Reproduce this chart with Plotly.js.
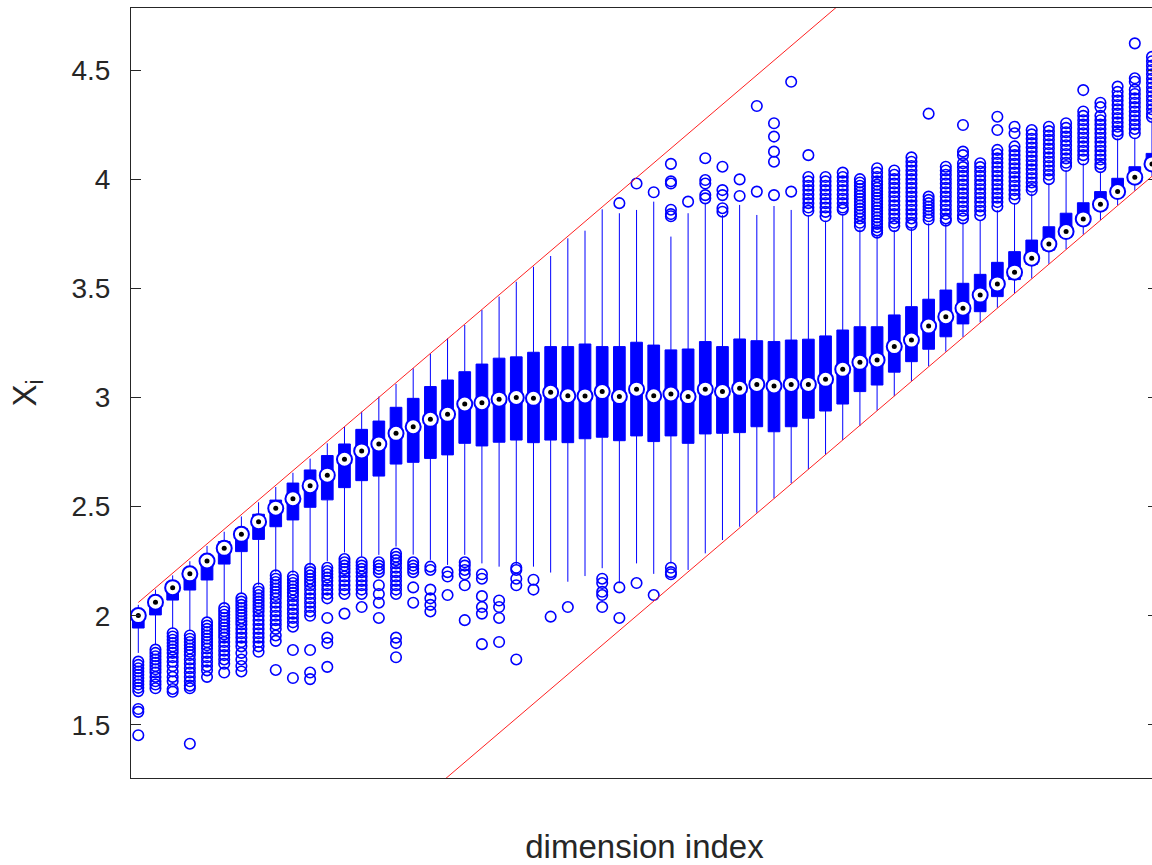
<!DOCTYPE html>
<html><head><meta charset="utf-8">
<script src="https://cdn.plot.ly/plotly-3.0.1.min.js"></script>
<style>html,body{margin:0;padding:0;overflow:hidden;background:#fff}#chart{width:1160px;height:865px}</style>
</head><body><div id="chart"></div>
<script>
const boxIndex = [];
for (let i = 1; i <= 60; i++) boxIndex.push(i);

const medians = [2.001,2.062,2.129,2.192,2.251,2.309,2.373,2.431,2.493,2.536,
  2.596,2.644,2.717,2.755,2.787,2.836,2.866,2.900,2.923,2.970,
  2.976,2.992,3.000,2.996,3.024,3.008,3.007,3.027,3.004,3.038,
  3.008,3.016,3.004,3.038,3.027,3.042,3.060,3.053,3.060,3.060,
  3.083,3.129,3.161,3.172,3.233,3.263,3.327,3.370,3.409,3.469,
  3.520,3.574,3.638,3.703,3.760,3.818,3.885,3.943,4.009,4.070];
const q1 = [1.944,2.004,2.072,2.118,2.164,2.237,2.294,2.350,2.408,2.439,
  2.497,2.531,2.587,2.619,2.640,2.695,2.703,2.721,2.737,2.790,
  2.778,2.795,2.805,2.793,2.805,2.793,2.811,2.818,2.802,2.824,
  2.798,2.824,2.790,2.833,2.836,2.839,2.866,2.843,2.866,2.905,
  2.938,2.970,3.027,3.057,3.116,3.164,3.221,3.278,3.337,3.393,
  3.462,3.540,3.610,3.675,3.735,3.795,3.860,3.920,3.985,4.045];
const q3 = [2.020,2.085,2.150,2.210,2.275,2.340,2.400,2.465,2.530,2.608,
  2.668,2.734,2.787,2.854,2.892,2.955,2.996,3.050,3.080,3.118,
  3.153,3.180,3.186,3.207,3.233,3.233,3.245,3.233,3.233,3.253,
  3.240,3.218,3.222,3.256,3.233,3.268,3.260,3.256,3.263,3.267,
  3.282,3.309,3.324,3.324,3.378,3.416,3.450,3.492,3.523,3.564,
  3.619,3.668,3.721,3.782,3.844,3.892,3.943,4.004,4.057,4.118];
const whiskerLow = [1.830,1.870,1.940,1.930,1.990,2.050,2.100,2.140,2.200,2.195,
  2.230,2.250,2.290,2.270,2.279,2.317,2.280,2.256,2.233,2.279,
  2.240,2.225,2.235,2.225,2.198,2.156,2.182,2.218,2.149,2.240,
  2.192,2.240,2.210,2.286,2.347,2.408,2.472,2.538,2.607,2.671,
  2.737,2.805,2.869,2.940,3.006,3.076,3.143,3.210,3.277,3.344,
  3.411,3.478,3.545,3.612,3.679,3.746,3.813,3.880,3.947,4.014];
const whiskerHigh = [2.050,2.120,2.185,2.250,2.320,2.385,2.455,2.520,2.590,2.655,
  2.720,2.790,2.866,2.935,3.004,3.062,3.134,3.202,3.271,3.332,
  3.401,3.462,3.530,3.599,3.648,3.729,3.764,3.862,3.844,3.859,
  3.897,3.737,3.844,3.890,3.836,3.882,3.836,3.877,3.859,3.835,
  3.810,3.840,3.770,3.740,3.767,3.775,3.798,3.798,3.805,3.813,
  3.859,3.890,3.935,3.981,4.042,4.073,4.034,4.187,4.190,4.270];

const outliers = [
  [1.79,1.775,1.76,1.745,1.73,1.715,1.70,1.685,1.67,1.655,1.573,1.56,1.453],
  [1.845,1.83,1.815,1.80,1.785,1.77,1.755,1.74,1.72,1.70,1.685,1.668],
  [1.92,1.905,1.89,1.875,1.86,1.845,1.83,1.81,1.79,1.77,1.745,1.72,1.70,1.665,1.652],
  [1.91,1.895,1.88,1.865,1.85,1.835,1.82,1.80,1.78,1.76,1.74,1.72,1.70,1.68,1.668,1.414],
  [1.97,1.955,1.94,1.925,1.91,1.895,1.88,1.865,1.85,1.83,1.81,1.79,1.77,1.75,1.72],
  [2.035,2.02,2.005,1.99,1.975,1.96,1.945,1.93,1.915,1.90,1.88,1.86,1.84,1.82,1.80,1.78,1.74],
  [2.08,2.065,2.05,2.035,2.02,2.005,1.99,1.975,1.96,1.94,1.92,1.90,1.88,1.86,1.83,1.80,1.77,1.745],
  [2.125,2.11,2.095,2.08,2.065,2.05,2.035,2.02,2.0,1.98,1.96,1.94,1.92,1.90,1.88,1.86,1.835],
  [2.185,2.17,2.155,2.14,2.125,2.11,2.095,2.08,2.06,2.04,2.02,2.0,1.98,1.96,1.94,1.91,1.885,1.752],
  [2.18,2.165,2.15,2.135,2.12,2.105,2.09,2.07,2.05,2.03,2.01,1.99,1.97,1.95,1.843,1.715],
  [2.215,2.20,2.185,2.17,2.155,2.14,2.12,2.10,2.08,2.06,2.04,2.02,2.0,1.843,1.74,1.71],
  [2.22,2.205,2.19,2.175,2.16,2.14,2.12,2.10,2.08,1.99,1.90,1.875,1.766],
  [2.26,2.245,2.23,2.215,2.20,2.18,2.16,2.14,2.12,2.10,2.01],
  [2.245,2.23,2.215,2.20,2.18,2.16,2.14,2.12,2.10,2.04],
  [2.245,2.23,2.215,2.20,2.14,2.10,2.06,1.99],
  [2.285,2.27,2.255,2.24,2.22,2.20,2.18,2.16,2.14,2.12,2.10,1.90,1.875,1.81],
  [2.245,2.23,2.215,2.20,2.13,2.06],
  [2.225,2.21,2.12,2.08,2.05,2.02],
  [2.20,2.18,2.095],
  [2.245,2.23,2.21,2.19,2.14,1.98],
  [2.19,2.17,2.09,2.04,2.01,1.87],
  [2.07,2.04,1.99,1.88],
  [2.22,2.21,2.17,2.14,1.80],
  [2.165,2.12],
  [1.996],
  [2.04],
  [],
  [2.17,2.15,2.11,2.095,2.04],
  [2.13,1.99,3.89],
  [2.15,3.98],
  [2.095,3.94],
  [2.22,2.20,2.19,4.07,3.99,3.98,3.86,3.84,3.83],
  [3.897],
  [4.096,3.996,3.98,3.927,3.912],
  [4.057,3.95,3.927,3.867,3.851],
  [3.999,3.923],
  [4.335,3.943],
  [4.256,4.195,4.126,4.08,3.927],
  [4.446,3.943],
  [4.11,4.01,3.99,3.97,3.95,3.93,3.91,3.89,3.87,3.855],
  [4.01,3.99,3.97,3.95,3.93,3.91,3.89,3.87,3.85,3.83],
  [4.03,4.01,3.99,3.97,3.95,3.93,3.91,3.89,3.87,3.86],
  [4.0,3.985,3.97,3.955,3.94,3.925,3.91,3.895,3.88,3.865,3.85,3.835,3.82,3.80,3.785],
  [4.05,4.03,4.01,3.99,3.975,3.96,3.945,3.93,3.915,3.90,3.885,3.87,3.855,3.84,3.825,3.81,3.795,3.78,3.765,3.755],
  [4.04,4.02,4.0,3.98,3.96,3.94,3.92,3.90,3.88,3.86,3.84,3.82,3.80,3.785],
  [4.10,4.08,4.06,4.04,4.02,4.0,3.98,3.96,3.94,3.92,3.90,3.88,3.86,3.84,3.82,3.80,3.79],
  [4.30,3.92,3.905,3.89,3.875,3.86,3.845,3.83,3.815],
  [4.057,4.04,4.02,4.0,3.98,3.96,3.94,3.92,3.90,3.88,3.86,3.84,3.82,3.81],
  [4.248,4.126,4.11,4.073,4.055,4.035,4.015,3.995,3.975,3.955,3.935,3.915,3.895,3.875,3.855,3.835,3.82],
  [4.073,4.055,4.035,4.015,3.995,3.975,3.955,3.935,3.915,3.895,3.875,3.855,3.835],
  [4.286,4.225,4.134,4.115,4.095,4.075,4.055,4.035,4.015,3.995,3.975,3.955,3.935,3.915,3.895,3.875],
  [4.24,4.21,4.15,4.13,4.11,4.09,4.07,4.05,4.03,4.01,3.99,3.97,3.95,3.93,3.91],
  [4.225,4.205,4.185,4.165,4.145,4.125,4.105,4.085,4.065,4.045,4.025,4.005,3.985,3.965,3.95],
  [4.24,4.22,4.20,4.18,4.16,4.14,4.12,4.10,4.08,4.06,4.04,4.02,4.0],
  [4.256,4.235,4.215,4.195,4.175,4.155,4.135,4.115,4.095,4.075,4.06],
  [4.408,4.31,4.29,4.27,4.25,4.23,4.21,4.19,4.17,4.15,4.13,4.11,4.09],
  [4.35,4.33,4.29,4.27,4.25,4.23,4.21,4.19,4.17,4.15,4.13,4.11,4.09,4.07,4.055],
  [4.424,4.40,4.38,4.36,4.34,4.32,4.30,4.28,4.26,4.24,4.22,4.205],
  [4.622,4.462,4.446,4.41,4.39,4.37,4.35,4.33,4.31,4.29,4.27,4.25,4.23,4.21],
  [4.56,4.54,4.52,4.50,4.48,4.46,4.44,4.42,4.40,4.38,4.36,4.34,4.32,4.30,4.285]
];

const boundX = [1, 61];
const upperBound = [2.061, 6.087];
const lowerBound = [0.054, 4.080];
const yTickVals = [1.5, 2, 2.5, 3, 3.5, 4, 4.5];

const outX = [], outY = [];
outliers.forEach((list, k) => list.forEach(v => { outX.push(boxIndex[k]); outY.push(v); }));

const BLUE = '#0000ff';
const traces = [
  {type:'box', x: boxIndex, q1: q1, median: medians, q3: q3,
   lowerfence: whiskerLow, upperfence: whiskerHigh, boxpoints: false,
   width: 0.68, whiskerwidth: 0, line:{color: BLUE, width: 1}, fillcolor: BLUE, hoverinfo:'skip'},
  {type:'scatter', mode:'markers', x: outX, y: outY,
   marker:{symbol:'circle-open', size:10.5, color: BLUE, line:{width:1.6, color: BLUE}}, hoverinfo:'skip'},
  {type:'scatter', mode:'lines', x: boundX, y: upperBound, line:{color:'#ff2020', width:1}, hoverinfo:'skip'},
  {type:'scatter', mode:'lines', x: boundX, y: lowerBound, line:{color:'#ff2020', width:1}, hoverinfo:'skip'},
  {type:'scatter', mode:'markers', x: boxIndex, y: medians,
   marker:{symbol:'circle', size:15, color:'#ffffff', line:{color: BLUE, width:2}}, hoverinfo:'skip'},
  {type:'scatter', mode:'markers', x: boxIndex, y: medians,
   marker:{symbol:'circle', size:5, color:'#000000'}, hoverinfo:'skip'}
];

const layout = {
  width: 1160, height: 865,
  margin: {l:131, r:2, t:8, b:87},
  paper_bgcolor:'#ffffff', plot_bgcolor:'#ffffff',
  showlegend: false,
  font: {family:'Liberation Sans, Arial, sans-serif', color:'#262626'},
  xaxis: {range:[0.575, 60.35], showgrid:false, zeroline:false, showticklabels:false, ticks:'',
    showline:true, mirror:true, linecolor:'#262626', linewidth:1,
    title:{text:'dimension index', font:{size:33, color:'#262626'}, standoff:66}},
  yaxis: {range:[1.257, 4.784], tickvals: yTickVals, showgrid:false, zeroline:false,
    ticks:'inside', ticklen:10, tickcolor:'#262626', showline:true, mirror:'ticks',
    linecolor:'#262626', linewidth:1, tickfont:{size:28, color:'#262626'}, ticklabelstandoff:14,
    title:{text:'X<sub>i</sub>', font:{size:33, color:'#262626'}, standoff:24}}
};

Plotly.newPlot('chart', traces, layout, {displayModeBar:false, staticPlot:true});
</script></body></html>
